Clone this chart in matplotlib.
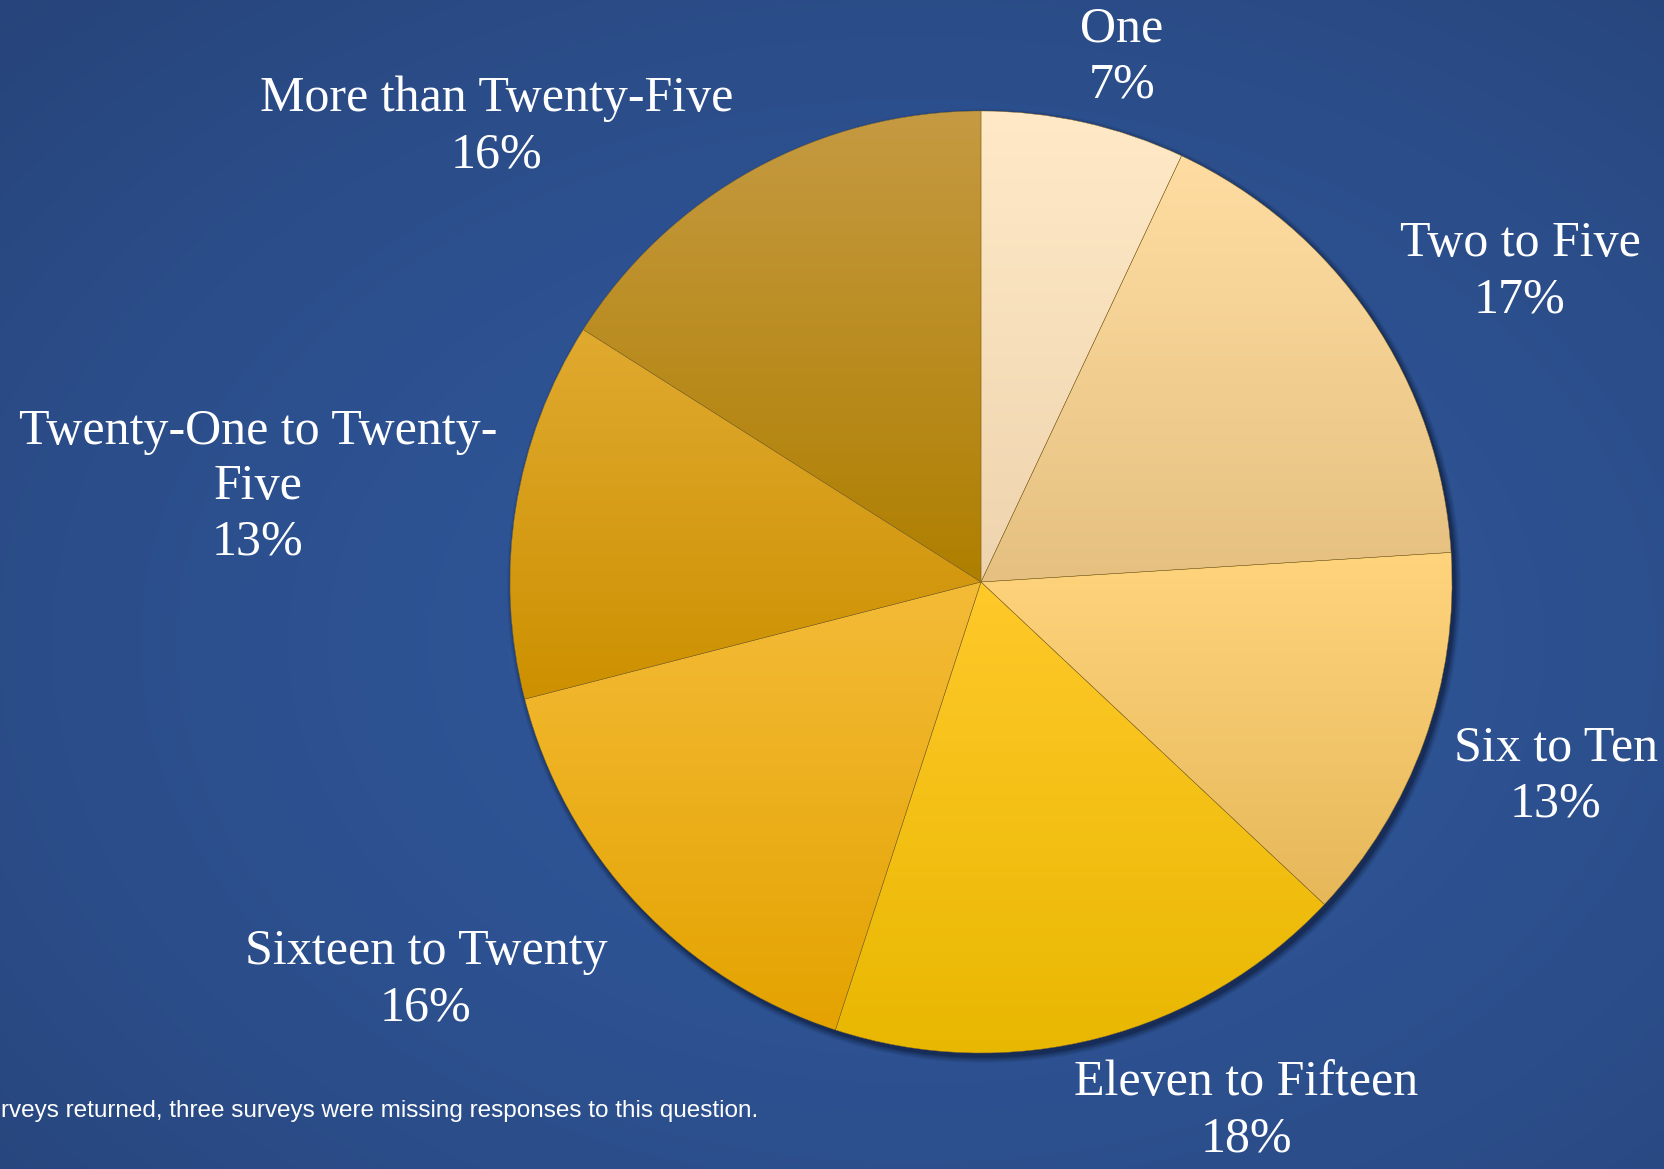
import numpy as np
import matplotlib
matplotlib.use("Agg")
import matplotlib.pyplot as plt
from matplotlib.colors import to_rgb
from matplotlib.patches import Circle

# ==========================
# DATA
# ==========================
categories = ["One", "Two to Five", "Six to Ten", "Eleven to Fifteen",
              "Sixteen to Twenty", "Twenty-One to Twenty-\nFive",
              "More than Twenty-Five"]
percents = [7, 17, 13, 18, 16, 13, 16]

# top / bottom colour of each slice's vertical gradient
top_colors = ["#FFE9C7", "#FFDDA2", "#FFD47D", "#FFC92A", "#F4BB38", "#E0AA30", "#C59A42"]
bottom_colors = ["#EED4AE", "#E5C080", "#E6B85A", "#E8B700", "#E4A300", "#CD9000", "#AF7F00"]

footnote = "rveys returned, three surveys were missing responses to this question."

# ==========================
# LAYOUT (pixels, y from top)
# ==========================
W, H = 1665, 1169
CX, CY, R = 981, 582, 471
label_pos = [(1122, 57), (1520, 272), (1556, 776), (1246, 1111),
             (426, 980), (258, 487), (497, 127)]
LABEL_SIZE = 36
LINE_SP = 1.26

fig = plt.figure(figsize=(W / 100, H / 100), dpi=100)
ax = fig.add_axes([0, 0, 1, 1])

# background: soft radial blue
yy, xx = np.mgrid[0:H:2, 0:W:2]
d = np.sqrt(((xx - 0.55 * W) / W) ** 2 + ((yy - 0.55 * H) / H) ** 2)
d = np.clip(d / 0.75, 0, 1)
c_mid = np.array(to_rgb("#30579A"))
c_edge = np.array(to_rgb("#27457C"))
bg = c_mid + (c_edge - c_mid) * (d[..., None] ** 1.6)
ax.imshow(bg, extent=(0, W, 0, H), origin="upper", zorder=0, aspect="auto")

# shadow under the pie
for k, a in enumerate([0.10, 0.12, 0.15, 0.2, 0.35]):
    ax.add_patch(Circle((CX + 3, H - CY - 4), R + 6 - k * 1.3,
                        color="#0d1b3a", alpha=a, lw=0, zorder=1))

wedges, _ = ax.pie(percents, startangle=90, counterclock=False,
                   center=(CX, H - CY), radius=R,
                   wedgeprops=dict(facecolor="none", edgecolor="#8a6a20",
                                   linewidth=0.3, zorder=3))

# vertical gradient clipped to each wedge
for w, ct, cb in zip(wedges, top_colors, bottom_colors):
    verts = w.get_patch_transform().transform(w.get_path().vertices)
    x0, y0 = verts.min(axis=0)
    x1, y1 = verts.max(axis=0)
    t = np.linspace(0, 1, 256)[:, None]
    grad = np.array(to_rgb(cb)) + (np.array(to_rgb(ct)) - np.array(to_rgb(cb))) * t
    im = ax.imshow(grad[:, None, :], extent=(x0, x1, y0, y1), origin="lower",
                   aspect="auto", zorder=2, interpolation="bilinear")
    im.set_clip_path(w)

# labels
for (lx, ly), cat, p in zip(label_pos, categories, percents):
    ax.text(lx, H - ly, f"{cat}\n{p}%", ha="center", va="center",
            color="white", fontsize=LABEL_SIZE, family="Liberation Serif",
            linespacing=LINE_SP, zorder=5)

ax.text(1, H - 1111, footnote, ha="left", va="center", color="white",
        fontsize=17.5, family="Liberation Sans", zorder=5)

ax.set_xlim(0, W)
ax.set_ylim(0, H)
ax.set_aspect("auto")
ax.set_axis_off()

fig.savefig("out.png", dpi=100)
